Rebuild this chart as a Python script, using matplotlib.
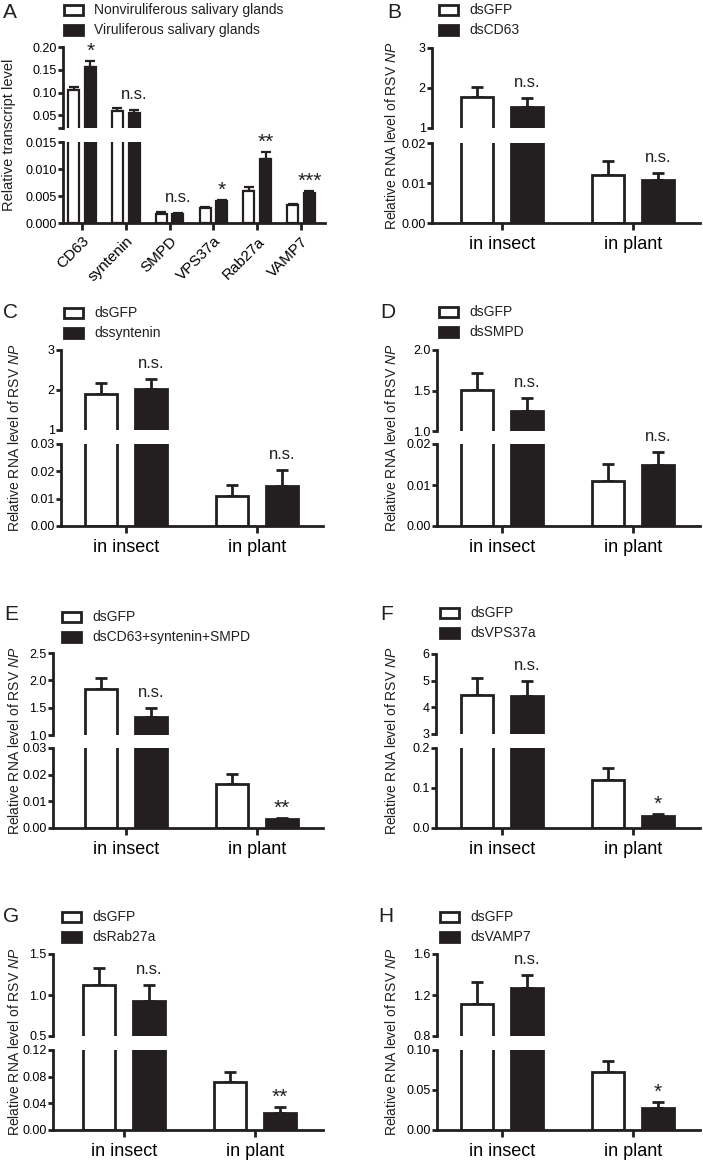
import numpy as np
import matplotlib
matplotlib.use('Agg')
import matplotlib.pyplot as plt
from matplotlib.patches import Rectangle
from matplotlib.ticker import FixedLocator, FormatStrFormatter

plt.rcParams['font.family'] = ['Liberation Sans', 'DejaVu Sans']
plt.rcParams['mathtext.fontset'] = 'custom'
plt.rcParams['mathtext.it'] = 'Liberation Sans:italic'
plt.rcParams['mathtext.rm'] = 'Liberation Sans'

#################### data ####################

# panel A: transcript levels in salivary glands
genes = ['CD63', 'syntenin', 'SMPD', 'VPS37a', 'Rab27a', 'VAMP7']
a_nonvir = [0.105, 0.059, 0.0017, 0.0027, 0.0060, 0.0033]
a_nonvir_err = [0.008, 0.006, 0.0003, 0.0003, 0.0007, 0.0003]
a_vir = [0.156, 0.055, 0.0017, 0.0040, 0.0119, 0.0056]
a_vir_err = [0.013, 0.006, 0.0002, 0.0003, 0.0012, 0.0003]
a_sig = ['*', 'n.s.', 'n.s.', '*', '**', '***']
a_names = ['Nonviruliferous salivary glands', 'Viruliferous salivary glands']

# panels B-H: RSV NP level after dsRNA treatment
groups = ['in insect', 'in plant']

b_gfp = [1.775, 0.0121]
b_gfp_err = [0.25, 0.0034]
b_ds = [1.525, 0.0107]
b_ds_err = [0.225, 0.0018]
b_sig = ['n.s.', 'n.s.']

c_gfp = [1.90, 0.0110]
c_gfp_err = [0.27, 0.0040]
c_ds = [2.03, 0.0148]
c_ds_err = [0.24, 0.0057]
c_sig = ['n.s.', 'n.s.']

d_gfp = [1.51, 0.0110]
d_gfp_err = [0.20, 0.0041]
d_ds = [1.25, 0.0149]
d_ds_err = [0.16, 0.0031]
d_sig = ['n.s.', 'n.s.']

e_gfp = [1.844, 0.0166]
e_gfp_err = [0.20, 0.0035]
e_ds = [1.328, 0.0034]
e_ds_err = [0.158, 0.0005]
e_sig = ['n.s.', '**']

f_gfp = [4.47, 0.121]
f_gfp_err = [0.62, 0.029]
f_ds = [4.41, 0.031]
f_ds_err = [0.56, 0.005]
f_sig = ['n.s.', '*']

g_gfp = [1.12, 0.072]
g_gfp_err = [0.21, 0.0145]
g_ds = [0.93, 0.025]
g_ds_err = [0.19, 0.0095]
g_sig = ['n.s.', '**']

h_gfp = [1.111, 0.072]
h_gfp_err = [0.217, 0.014]
h_ds = [1.272, 0.027]
h_ds_err = [0.121, 0.0075]
h_sig = ['n.s.', '*']

##############################################

W, H = 703, 1163
fig = plt.figure(figsize=(W / 100, H / 100), dpi=100)
BLACK = '#231f20'


def px_axes(x0, x1, y0, y1):
    # pixel box (y from top) -> figure axes
    return fig.add_axes([x0 / W, 1 - y1 / H, (x1 - x0) / W, (y1 - y0) / H])


def draw_panel(letter, lay, cats, white, white_err, black, black_err, sig, names, ylabel):
    sx, xr, t0, step = lay['sx'], lay['xr'], lay['t0'], lay['step']
    x = np.arange(len(cats))
    off, width, lw = lay['off'], lay['width'], lay['lw']
    xlim = ((sx - t0) / step, (xr - t0) / step)
    ax_top = px_axes(sx, xr, *lay['top'])
    ax_bot = px_axes(sx, xr, *lay['bot'])
    for ax in (ax_top, ax_bot):
        ax.bar(x - off, white, width, color='white', edgecolor=BLACK, linewidth=lw, zorder=2)
        ax.bar(x + off, black, width, color=BLACK, edgecolor=BLACK, linewidth=lw, zorder=2)
        ax.errorbar(x - off, white, yerr=[np.zeros(len(x)), white_err], fmt='none',
                    ecolor=BLACK, elinewidth=lw, capsize=lay['cap'], capthick=lw, zorder=1)
        ax.errorbar(x + off, black, yerr=[np.zeros(len(x)), black_err], fmt='none',
                    ecolor=BLACK, elinewidth=lw, capsize=lay['cap'], capthick=lw, zorder=1)
        ax.set_xlim(xlim)
        for s in ['top', 'right']:
            ax.spines[s].set_visible(False)
        ax.spines['left'].set_linewidth(2)
        ax.spines['left'].set_color(BLACK)
        ax.spines['bottom'].set_linewidth(2)
        ax.spines['bottom'].set_color(BLACK)
        ax.tick_params(axis='y', direction='out', length=3.5, width=2, pad=1,
                       labelsize=9, color=BLACK)
        ax.patch.set_visible(False)

    ax_top.set_ylim(lay['ylim_top'])
    ax_bot.set_ylim(lay['ylim_bot'])
    ax_top.spines['bottom'].set_visible(False)
    ax_top.tick_params(axis='x', bottom=False, labelbottom=False)
    ax_top.yaxis.set_major_locator(FixedLocator(lay['ticks_top']))
    ax_bot.yaxis.set_major_locator(FixedLocator(lay['ticks_bot']))
    if 'labels_top' in lay:
        ax_top.set_yticklabels(lay['labels_top'])
    else:
        ax_top.yaxis.set_major_formatter(FormatStrFormatter(lay['fmt_top']))
    ax_bot.yaxis.set_major_formatter(FormatStrFormatter(lay['fmt_bot']))

    ax_bot.set_xticks(x)
    if lay['rot']:
        ax_bot.set_xticklabels(cats, rotation=45, ha='right', rotation_mode='anchor',
                               fontsize=lay['xfs'])
    else:
        ax_bot.set_xticklabels(cats, fontsize=lay['xfs'])
    ax_bot.tick_params(axis='x', direction='out', length=5, width=2, pad=lay['xpad'],
                       color=BLACK)

    # significance marks over the black bars
    top_lo = lay['ylim_top'][0]
    for i, s in enumerate(sig):
        yv = black[i] + black_err[i]
        ax = ax_top if yv > top_lo else ax_bot
        star = s.startswith('*')
        ax.annotate(s, xy=(x[i] + off, yv), xytext=(0, 3 if star else 8),
                    textcoords='offset points', ha='center', va='baseline',
                    fontsize=15 if star else 12, color=BLACK, annotation_clip=False)

    # y label spanning both segments
    yc = (lay['top'][0] + lay['bot'][1]) / 2
    fig.text(lay['ylx'] / W, 1 - yc / H, ylabel, rotation=90, ha='center', va='center',
             fontsize=lay['ylfs'], color=BLACK)

    # panel letter
    fig.text(lay['lx'] / W, 1 - lay['ly'] / H, letter, fontsize=15, ha='left', va='center',
             color=BLACK)

    # legend boxes
    bx = lay['bx']
    for yy, fc, nm in [(lay['ly1'], 'white', names[0]), (lay['ly1'] + 20, BLACK, names[1])]:
        fig.add_artist(Rectangle((bx / W, 1 - (yy + 5) / H), 19 / W, 10 / H,
                                 transform=fig.transFigure, facecolor=fc,
                                 edgecolor=BLACK, linewidth=2))
        fig.text((bx + 30) / W, 1 - yy / H, nm, fontsize=10, ha='left', va='center',
                 color=BLACK)


np_label = 'Relative RNA level of RSV $\\it{NP}$'

base = dict(off=0.19, width=0.245, lw=2, cap=4, step=131, rot=False, xfs=13, xpad=4,
            ylfs=10)

lay_a = dict(sx=63, xr=325, t0=82, step=43.8, top=(47, 128), bot=(142, 223),
             off=0.19, width=0.25, lw=1.6, cap=3.5, rot=True, xfs=11, xpad=3,
             ylim_top=(0.022, 0.20), ylim_bot=(0, 0.015),
             ticks_top=[0.022, 0.05, 0.10, 0.15, 0.20],
             labels_top=['', '0.05', '0.10', '0.15', '0.20'],
             ticks_bot=[0, 0.005, 0.010, 0.015], fmt_bot='%.3f',
             ylx=9, ylfs=10.5, lx=3, ly=12, bx=64, ly1=10)

lay_b = dict(base, sx=432, xr=700, t0=502, top=(48, 128), bot=(143, 223),
             ylim_top=(1, 3), ylim_bot=(0, 0.02), ticks_top=[1, 2, 3], fmt_top='%d',
             ticks_bot=[0, 0.01, 0.02], fmt_bot='%.2f', ylx=392, lx=387, ly=12,
             bx=439, ly1=10)

lay_c = dict(base, sx=61, xr=323, t0=126, top=(350, 430), bot=(444, 526),
             ylim_top=(1, 3), ylim_bot=(0, 0.03), ticks_top=[1, 2, 3], fmt_top='%d',
             ticks_bot=[0, 0.01, 0.02, 0.03], fmt_bot='%.2f', ylx=15, lx=3, ly=312,
             bx=64, ly1=313)

lay_d = dict(base, sx=437, xr=700, t0=502, top=(350, 431), bot=(444, 526),
             ylim_top=(1, 2), ylim_bot=(0, 0.02), ticks_top=[1, 1.5, 2], fmt_top='%.1f',
             ticks_bot=[0, 0.01, 0.02], fmt_bot='%.2f', ylx=392, lx=380, ly=312,
             bx=439, ly1=312)

lay_e = dict(base, sx=53, xr=323, t0=126, top=(653, 735), bot=(748, 828),
             ylim_top=(1, 2.5), ylim_bot=(0, 0.03), ticks_top=[1, 1.5, 2, 2.5],
             fmt_top='%.1f', ticks_bot=[0, 0.01, 0.02, 0.03], fmt_bot='%.2f',
             ylx=15, lx=4, ly=614, bx=62, ly1=617)

lay_f = dict(base, sx=436, xr=700, t0=502, top=(654, 734), bot=(748, 828),
             ylim_top=(3, 6), ylim_bot=(0, 0.2), ticks_top=[3, 4, 5, 6], fmt_top='%d',
             ticks_bot=[0, 0.1, 0.2], fmt_bot='%.1f', ylx=392, lx=380, ly=615,
             bx=440, ly1=613)

lay_g = dict(base, sx=53, xr=323, t0=124, top=(954, 1036), bot=(1050, 1130),
             ylim_top=(0.5, 1.5), ylim_bot=(0, 0.12), ticks_top=[0.5, 1.0, 1.5],
             fmt_top='%.1f', ticks_bot=[0, 0.04, 0.08, 0.12], fmt_bot='%.2f',
             ylx=15, lx=3, ly=916, bx=62, ly1=917)

lay_h = dict(base, sx=437, xr=700, t0=502, top=(954, 1036), bot=(1050, 1130),
             ylim_top=(0.8, 1.6), ylim_bot=(0, 0.10), ticks_top=[0.8, 1.2, 1.6],
             fmt_top='%.1f', ticks_bot=[0, 0.05, 0.10], fmt_bot='%.2f',
             ylx=392, lx=378, ly=916, bx=440, ly1=917)

draw_panel('A', lay_a, genes, a_nonvir, a_nonvir_err, a_vir, a_vir_err, a_sig, a_names,
           'Relative transcript level')
draw_panel('B', lay_b, groups, b_gfp, b_gfp_err, b_ds, b_ds_err, b_sig,
           ['dsGFP', 'dsCD63'], np_label)
draw_panel('C', lay_c, groups, c_gfp, c_gfp_err, c_ds, c_ds_err, c_sig,
           ['dsGFP', 'dssyntenin'], np_label)
draw_panel('D', lay_d, groups, d_gfp, d_gfp_err, d_ds, d_ds_err, d_sig,
           ['dsGFP', 'dsSMPD'], np_label)
draw_panel('E', lay_e, groups, e_gfp, e_gfp_err, e_ds, e_ds_err, e_sig,
           ['dsGFP', 'dsCD63+syntenin+SMPD'], np_label)
draw_panel('F', lay_f, groups, f_gfp, f_gfp_err, f_ds, f_ds_err, f_sig,
           ['dsGFP', 'dsVPS37a'], np_label)
draw_panel('G', lay_g, groups, g_gfp, g_gfp_err, g_ds, g_ds_err, g_sig,
           ['dsGFP', 'dsRab27a'], np_label)
draw_panel('H', lay_h, groups, h_gfp, h_gfp_err, h_ds, h_ds_err, h_sig,
           ['dsGFP', 'dsVAMP7'], np_label)

plt.savefig('out.png', dpi=100)
